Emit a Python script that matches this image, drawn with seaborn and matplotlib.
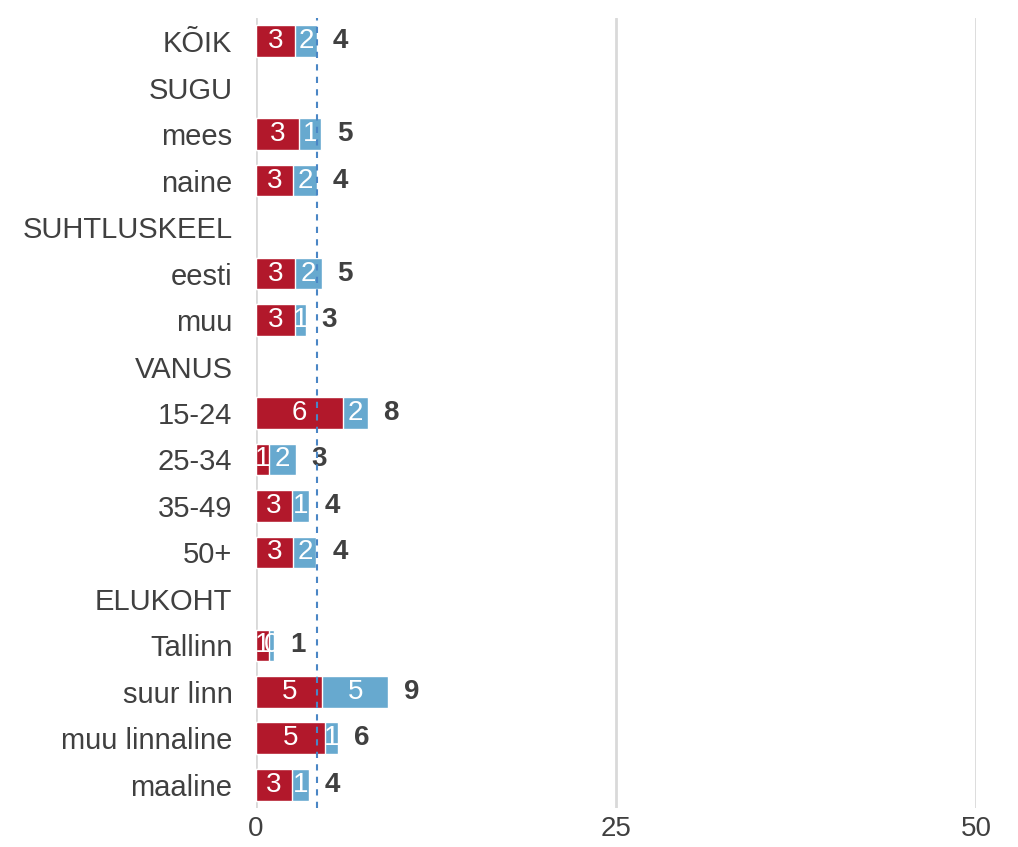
import numpy as np
import pandas as pd
import matplotlib.pyplot as plt
import seaborn as sns

rows = ["KÕIK", "SUGU", "mees", "naine", "SUHTLUSKEEL", "eesti", "muu",
        "VANUS", "15-24", "25-34", "35-49", "50+", "ELUKOHT",
        "Tallinn", "suur linn", "muu linnaline", "maaline"]
groups = ["KÕIK", "mees", "naine", "eesti", "muu", "15-24", "25-34",
          "35-49", "50+", "Tallinn", "suur linn", "muu linnaline", "maaline"]
red_vals = [2.7, 3.02, 2.6, 2.7, 2.7, 6.05, 0.9, 2.5, 2.6, 0.9, 4.6, 4.8, 2.5]
blue_vals = [1.55, 1.49, 1.65, 1.85, 0.75, 1.7, 1.85, 1.2, 1.6, 0.35, 4.6, 0.9, 1.2]
avg_line = 4.25

RED = "#B2182B"
BLUE = "#67A9CF"
TXT = "#404040"


def r(v):
    return str(int(np.floor(v + 0.5)))


df = pd.DataFrame({"group": groups, "red": red_vals, "blue": blue_vals})
df["total"] = df["red"] + df["blue"]

sns.set_style("white")
plt.rcParams["font.family"] = ["Liberation Sans", "DejaVu Sans"]

fig = plt.figure(figsize=(10.18, 8.47), dpi=100)
ax = fig.add_axes([256 / 1018, 1 - 808 / 847, 720 / 1018, 790 / 847])

sns.barplot(data=df, y="group", x="total", order=rows, color=BLUE,
            width=0.68, saturation=1, ax=ax, orient="h")
sns.barplot(data=df, y="group", x="red", order=rows, color=RED,
            width=0.68, saturation=1, ax=ax, orient="h")

ypos = {name: i for i, name in enumerate(rows)}
for _, row in df.iterrows():
    y = ypos[row["group"]]
    ax.text(row["red"] / 2, y, r(row["red"]), color="white", fontsize=20,
            ha="center", va="center")
    ax.text(row["red"] + row["blue"] / 2, y, r(row["blue"]), color="white",
            fontsize=20, ha="center", va="center")
    ax.text(row["total"] + 1.1, y, r(row["total"]), color=TXT, fontsize=20,
            fontweight="bold", ha="left", va="center")

ax.axvline(avg_line, color="#4A86C5", linestyle=(0, (3, 3)), linewidth=1.5,
           zorder=5)

ax.set_xlim(0, 50)
ax.set_ylim(len(rows) - 0.5, -0.5)
ax.set_xticks([0, 25, 50])
ax.grid(axis="x", color="#D9D9D9", linewidth=2)
ax.set_axisbelow(True)
for s in ax.spines.values():
    s.set_visible(False)
ax.set_xlabel("")
ax.set_ylabel("")
ax.tick_params(axis="both", length=0, labelsize=21, labelcolor=TXT)
ax.tick_params(axis="y", pad=17)
ax.tick_params(axis="x", pad=6, labelsize=20)

plt.savefig("out.png", dpi=100)
